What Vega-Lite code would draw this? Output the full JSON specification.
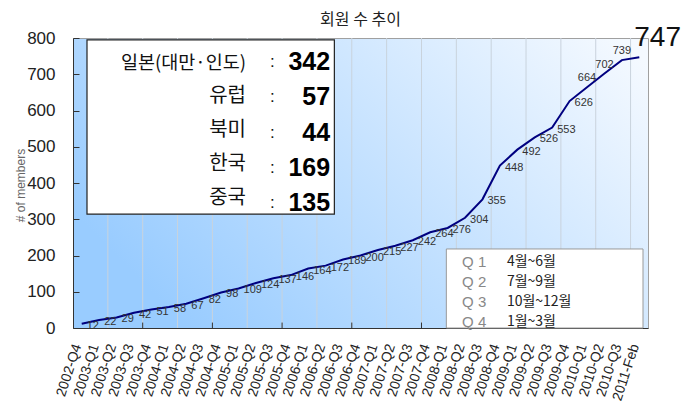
{
  "$schema": "https://vega.github.io/schema/vega-lite/v6.json",
  "width": 575,
  "height": 290,
  "autosize": {"type": "none"},
  "padding": {"left": 73, "top": 38, "right": 41, "bottom": 77},
  "background": "white",
  "title": {"text": "회원 수 추이", "font": "Noto Sans CJK KR", "fontSize": 16, "fontWeight": "normal", "color": "#222", "offset": 10, "dy": 14, "anchor": "middle"},
  "config": {
    "font": "Liberation Sans",
    "view": {
      "stroke": "#a0a0a0",
      "fill": {"gradient": "linear", "x1": 0, "y1": 0.6, "x2": 1, "y2": 0.1, "stops": [{"offset": 0, "color": "#99ccff"}, {"offset": 1, "color": "#f4f9ff"}]}
    }
  },
  "datasets": {
    "members": [
      {"q": "2002-Q4", "members": 12}, {"q": "2003-Q1", "members": 22}, {"q": "2003-Q2", "members": 29}, {"q": "2003-Q3", "members": 42},
      {"q": "2003-Q4", "members": 51}, {"q": "2004-Q1", "members": 58}, {"q": "2004-Q2", "members": 67}, {"q": "2004-Q3", "members": 82},
      {"q": "2004-Q4", "members": 98}, {"q": "2005-Q1", "members": 109}, {"q": "2005-Q2", "members": 124}, {"q": "2005-Q3", "members": 137},
      {"q": "2005-Q4", "members": 146}, {"q": "2006-Q1", "members": 164}, {"q": "2006-Q2", "members": 172}, {"q": "2006-Q3", "members": 189},
      {"q": "2006-Q4", "members": 200}, {"q": "2007-Q1", "members": 215}, {"q": "2007-Q2", "members": 227}, {"q": "2007-Q3", "members": 242},
      {"q": "2007-Q4", "members": 264}, {"q": "2008-Q1", "members": 276}, {"q": "2008-Q2", "members": 304}, {"q": "2008-Q3", "members": 355},
      {"q": "2008-Q4", "members": 448}, {"q": "2009-Q1", "members": 492}, {"q": "2009-Q2", "members": 526}, {"q": "2009-Q3", "members": 553},
      {"q": "2009-Q4", "members": 626}, {"q": "2010-Q1", "members": 664}, {"q": "2010-Q2", "members": 702}, {"q": "2010-Q3", "members": 739},
      {"q": "2011-Feb", "members": 747}
    ],
    "regions": [
      {"region": "일본(대만·인도)", "count": 342, "rank": 1},
      {"region": "유럽", "count": 57, "rank": 2},
      {"region": "북미", "count": 44, "rank": 3},
      {"region": "한국", "count": 169, "rank": 4},
      {"region": "중국", "count": 135, "rank": 5}
    ],
    "quarters": [
      {"quarter": "Q 1", "months": "4월~6월", "rank": 1},
      {"quarter": "Q 2", "months": "7월~9월", "rank": 2},
      {"quarter": "Q 3", "months": "10월~12월", "rank": 3},
      {"quarter": "Q 4", "months": "1월~3월", "rank": 4}
    ]
  },
  "data": {"name": "members"},
  "layer": [
    {
      "transform": [{"window": [{"op": "row_number", "as": "rn"}]}, {"filter": "datum.rn % 2 == 1 && datum.rn > 1"}],
      "mark": {"type": "rule", "color": "#c9d3dd", "strokeWidth": 1},
      "encoding": {
        "x": {"field": "q", "type": "ordinal", "bandPosition": 0, "scale": {"type": "band", "paddingInner": 0, "paddingOuter": 0}}
      }
    },
    {
      "transform": [{"window": [{"op": "row_number", "as": "rn"}]}, {"filter": "(datum.rn - 1) % 4 == 0 && datum.rn > 1"}],
      "mark": {"type": "rule", "color": "#333", "strokeWidth": 1},
      "encoding": {
        "x": {"field": "q", "type": "ordinal", "bandPosition": 0, "scale": {"type": "band", "paddingInner": 0, "paddingOuter": 0}},
        "y": {"datum": 0, "type": "quantitative", "scale": {"domain": [0, 800]}, "axis": null},
        "y2": {"datum": 15}
      }
    },
    {
      "mark": {"type": "line", "color": "#000080", "strokeWidth": 2},
      "encoding": {
        "x": {
          "field": "q", "type": "ordinal", "scale": {"type": "band", "paddingInner": 0, "paddingOuter": 0},
          "axis": {"title": null, "labelAngle": -72, "labelAlign": "right", "labelBaseline": "middle", "labelFontSize": 14, "labelColor": "#222", "labelPadding": 16, "labelOffset": -4, "ticks": false, "grid": false, "domainColor": "#333", "labelOverlap": false}
        },
        "y": {
          "field": "members", "type": "quantitative", "scale": {"domain": [0, 800]},
          "axis": {"title": "# of members", "titleFontSize": 12, "titleFontWeight": "normal", "titleColor": "#666", "titleX": -53, "titleY": 147, "titleBaseline": "middle", "values": [0, 100, 200, 300, 400, 500, 600, 700, 800], "labelFontSize": 17, "labelColor": "#222", "tickSize": -6, "tickColor": "#333", "domainColor": "#333", "labelPadding": 24, "grid": false}
        }
      }
    },
    {
      "transform": [{"filter": "datum.members < 664"}],
      "mark": {"type": "text", "align": "left", "baseline": "middle", "dx": 5, "dy": 2, "fontSize": 11, "color": "#333"},
      "encoding": {
        "x": {"field": "q", "type": "ordinal"},
        "y": {"field": "members", "type": "quantitative", "scale": {"domain": [0, 800]}, "axis": null},
        "text": {"field": "members"}
      }
    },
    {
      "transform": [{"filter": "datum.members >= 664 && datum.members < 747"}],
      "mark": {"type": "text", "align": "center", "baseline": "middle", "dx": 0, "dy": -9, "fontSize": 11, "color": "#333"},
      "encoding": {
        "x": {"field": "q", "type": "ordinal"},
        "y": {"field": "members", "type": "quantitative", "scale": {"domain": [0, 800]}, "axis": null},
        "text": {"field": "members"}
      }
    },
    {
      "transform": [{"filter": "datum.members == 747"}],
      "mark": {"type": "text", "align": "left", "baseline": "middle", "dx": -5, "dy": -19, "fontSize": 28, "color": "#111"},
      "encoding": {
        "x": {"field": "q", "type": "ordinal"},
        "y": {"field": "members", "type": "quantitative", "scale": {"domain": [0, 800]}, "axis": null},
        "text": {"field": "members"}
      }
    },
    {
      "data": {"values": [{}]},
      "mark": {"type": "rect", "fill": "white", "stroke": "#222", "strokeWidth": 1.2, "xOffset": 14},
      "encoding": {
        "x": {"datum": "2002-Q4", "type": "ordinal", "bandPosition": 0},
        "x2": {"datum": "2006-Q2", "bandPosition": 1},
        "y": {"datum": 314, "type": "quantitative", "scale": {"domain": [0, 800]}, "axis": null},
        "y2": {"datum": 795}
      }
    },
    {
      "data": {"name": "regions"},
      "mark": {"type": "text", "align": "right", "baseline": "middle", "dx": 7.5, "font": "Noto Sans CJK KR", "color": "#111"},
      "encoding": {
        "x": {"datum": "2005-Q1", "type": "ordinal"},
        "y": {"field": "rank", "type": "ordinal", "scale": {"type": "point", "range": [24.5, 160], "padding": 0}, "axis": null},
        "text": {"field": "region"},
        "size": {"condition": {"test": "datum.rank == 1", "value": 18.5}, "value": 20}
      }
    },
    {
      "data": {"name": "regions"},
      "mark": {"type": "text", "align": "center", "baseline": "middle", "dx": -1, "fontSize": 17, "color": "#111"},
      "encoding": {
        "x": {"datum": "2005-Q3", "type": "ordinal"},
        "y": {"field": "rank", "type": "ordinal", "scale": {"type": "point", "range": [24, 165], "padding": 0}, "axis": null},
        "text": {"value": ":"}
      }
    },
    {
      "data": {"name": "regions"},
      "mark": {"type": "text", "align": "right", "baseline": "middle", "dx": 4.5, "fontSize": 25, "fontWeight": "bold", "color": "#000"},
      "encoding": {
        "x": {"datum": "2006-Q2", "type": "ordinal"},
        "y": {"field": "rank", "type": "ordinal", "scale": {"type": "point", "range": [24, 165], "padding": 0}, "axis": null},
        "text": {"field": "count"}
      }
    },
    {
      "data": {"values": [{}]},
      "mark": {"type": "rect", "fill": "white", "stroke": "#999", "strokeWidth": 1, "xOffset": -10, "x2Offset": -5},
      "encoding": {
        "x": {"datum": "2008-Q2", "type": "ordinal", "bandPosition": 0},
        "x2": {"datum": "2011-Feb", "bandPosition": 1},
        "y": {"datum": 0, "type": "quantitative", "scale": {"domain": [0, 800]}, "axis": null},
        "y2": {"datum": 218}
      }
    },
    {
      "data": {"name": "quarters"},
      "mark": {"type": "text", "align": "left", "baseline": "middle", "dx": -3, "fontSize": 15, "color": "#888"},
      "encoding": {
        "x": {"datum": "2008-Q2", "type": "ordinal"},
        "y": {"field": "rank", "type": "ordinal", "scale": {"type": "point", "range": [224, 284], "padding": 0}, "axis": null},
        "text": {"field": "quarter"}
      }
    },
    {
      "data": {"name": "quarters"},
      "mark": {"type": "text", "align": "left", "baseline": "middle", "dx": 7, "fontSize": 14, "font": "Noto Sans CJK KR", "color": "#222"},
      "encoding": {
        "x": {"datum": "2008-Q4", "type": "ordinal"},
        "y": {"field": "rank", "type": "ordinal", "scale": {"type": "point", "range": [224, 284], "padding": 0}, "axis": null},
        "text": {"field": "months"}
      }
    }
  ],
  "resolve": {"scale": {"y": "independent"}, "axis": {"y": "independent"}}
}
